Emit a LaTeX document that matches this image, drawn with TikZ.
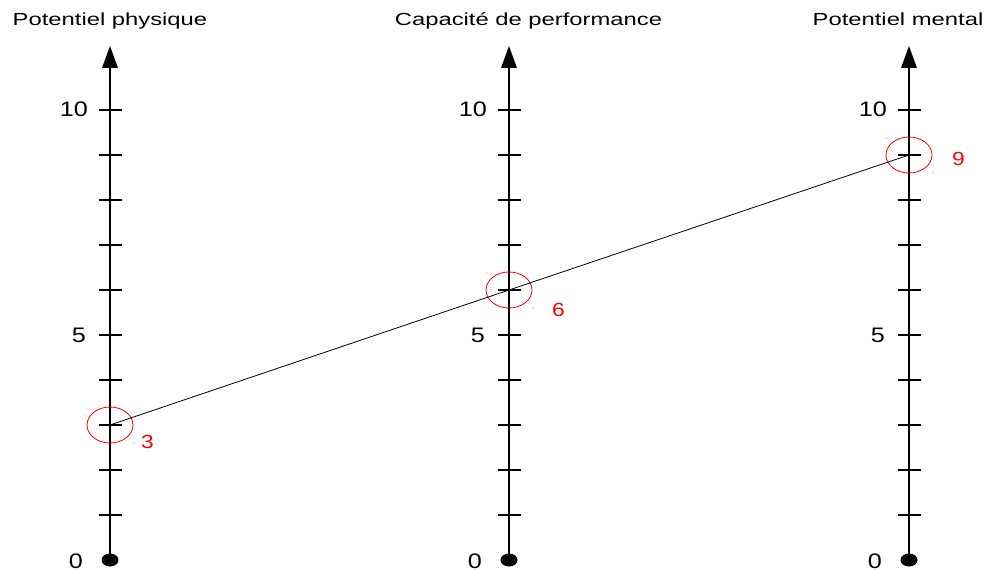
\documentclass[tikz,border=0pt]{standalone}
\usepackage{fontspec}
\setmainfont{Liberation Sans}
\usetikzlibrary{shapes.geometric}
\newcommand\mystretch[2]{\scalebox{#1}[1]{#2}}
\begin{document}
\begin{tikzpicture}[x=1pt,y=-1pt,
  axisline/.style={line width=1.6pt},
  tickline/.style={line width=1.3pt},
  titletext/.style={anchor=base,inner sep=0pt,font=\fontsize{17.5}{20}\selectfont},
  numlabel/.style={anchor=east,inner sep=0pt,font=\fontsize{21}{24}\selectfont},
  redlabel/.style={inner sep=0pt,text=red,font=\fontsize{19}{22}\selectfont},
  mark ring/.style={draw=red,line width=0.8pt,ellipse,minimum width=46pt,minimum height=36pt,inner sep=0pt},
  speck/.style={fill=red!60},
  linkline/.style={line width=0.8pt}]
\useasboundingbox (0,0) rectangle (989,572);
% titles
\node[titletext] (t1) at (110,25.7) {\mystretch{1.36}{Potentiel physique}};
\node[titletext] (t2) at (528.5,25.7) {\mystretch{1.36}{Capacité de performance}};
\node[titletext] (t3) at (898,25.7) {\mystretch{1.36}{Potentiel mental}};
% axes
\foreach \ax/\nm in {110/a,509/b,909/c}{
  \coordinate (top\nm) at (\ax,68);
  \coordinate (bot\nm) at (\ax,560);
  \draw[axisline] (top\nm) -- (bot\nm);
  \fill (\ax,46) -- (\ax-8,68) -- (\ax+8,68) -- cycle;
  \foreach \k in {1,...,10}{
    \draw[tickline] (\ax-11.5,560-45*\k) -- (\ax+11.5,560-45*\k);
  }
  \fill (bot\nm) ellipse [x radius=8.5pt, y radius=6.5pt];
  \node[numlabel] (ten\nm) at (\ax-22,109.5) {\mystretch{1.2}{10}};
  \node[numlabel] (five\nm) at (\ax-24,335.5) {\mystretch{1.2}{5}};
  \node[numlabel] (zero\nm) at (\ax-27,561.5) {\mystretch{1.2}{0}};
}
% marked values
\node[mark ring] (m3) at (110,425) {};
\node[mark ring] (m6) at (509,290) {};
\node[mark ring] (m9) at (909,155) {};
\draw[linkline] (m3.center) -- (m6.center) -- (m9.center);
\node[redlabel] (l3) at (147.5,441.5) {\mystretch{1.2}{3}};
\node[redlabel] (l6) at (558.5,310) {\mystretch{1.2}{6}};
\node[redlabel] (l9) at (958.5,158.5) {\mystretch{1.2}{9}};
% small specks
\foreach \cx/\cy in {110/425,509/290,909/155}{
  \fill[speck] (\cx-22,\cy-17) circle (0.7);
  \fill[speck] (\cx+24,\cy+18) circle (0.7);
}
\end{tikzpicture}
\end{document}
